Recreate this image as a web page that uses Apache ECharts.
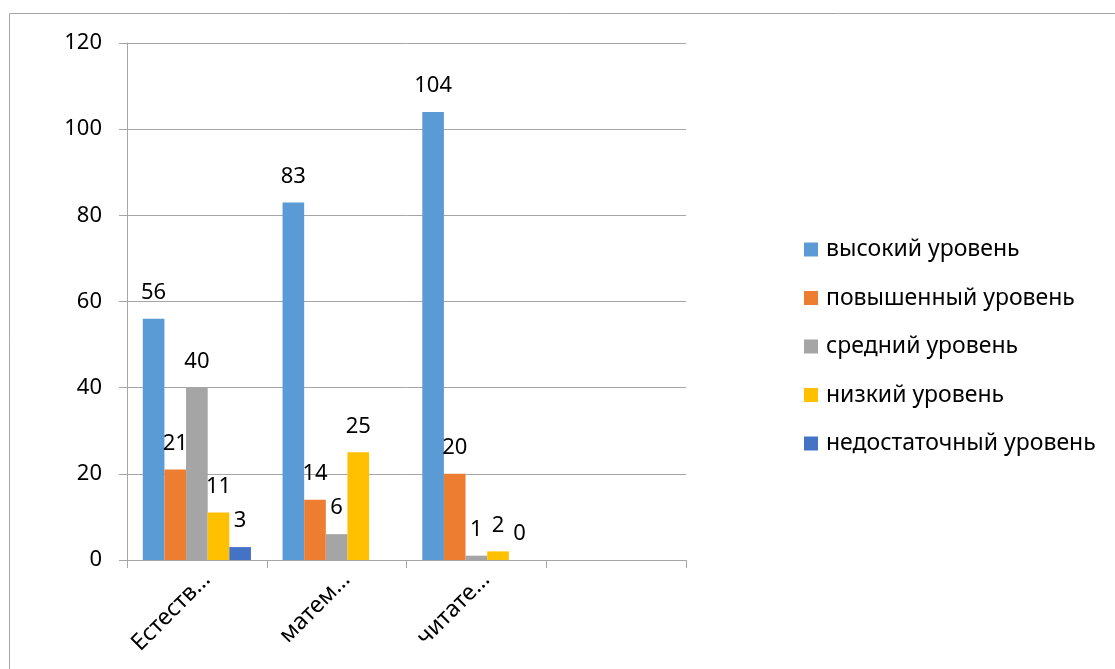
<!DOCTYPE html>
<html>
<head>
<meta charset="utf-8">
<script src="https://cdn.jsdelivr.net/npm/echarts@6/dist/echarts.min.js"></script>
<style>
    html, body { margin: 0; padding: 0; background: #fff; }
    #levels { width: 1115px; height: 669px; }
</style>
</head>
<body>
<div id="levels"></div>
<script>
// categories along the x axis (last one is empty in the original)
var categories = ['Естеств…', 'матем…', 'читате…', ''];
var seriesNames = ['высокий уровень', 'повышенный уровень', 'средний уровень', 'низкий уровень', 'недостаточный уровень'];
var highData = [56, 83, 104, '-'];
var raisedData = [21, 14, 20, '-'];
var middleData = [40, 6, 1, '-'];
var lowData = [11, 25, 2, '-'];
var poorData = [3, '-', 0, '-'];
var colors = ['#5B9BD5', '#ED7D31', '#A5A5A5', '#FFC000', '#4472C4'];

var font = 'Noto Sans';
var chart = echarts.init(document.getElementById('levels'));

function makeSeries(i, data) {
    return {
        name: seriesNames[i],
        type: 'bar',
        data: data,
        barGap: 0,
        barCategoryGap: '22.6%',
        itemStyle: { color: colors[i] },
        label: {
            show: true,
            position: 'top',
            distance: 15,
            color: '#000',
            fontFamily: font,
            fontSize: 22
        }
    };
}

var option = {
    backgroundColor: '#FFFFFF',
    animation: false,
    color: colors,
    graphic: [{
        type: 'rect',
        shape: { x: 9.5, y: 13.5, width: 1200, height: 800 },
        style: { fill: 'none', stroke: '#a6a6a6', lineWidth: 1 },
        silent: true
    }],
    grid: {
        left: 127,
        right: 429,
        top: 43,
        bottom: 109
    },
    legend: {
        orient: 'vertical',
        left: 799,
        top: 233,
        icon: 'rect',
        itemWidth: 14,
        itemHeight: 14,
        itemGap: 25.5,
        data: seriesNames,
        textStyle: {
            color: '#000',
            fontFamily: font,
            fontSize: 23,
            lineHeight: 22,
            padding: [0, 0, 0, 3]
        }
    },
    xAxis: {
        type: 'category',
        data: categories,
        axisLine: { lineStyle: { color: '#a6a6a6' } },
        axisTick: { show: true, length: 8, alignWithLabel: false, lineStyle: { color: '#a6a6a6' } },
        axisLabel: {
            rotate: 45,
            interval: 0,
            margin: 26,
            padding: [0, -14, 0, 0],
            color: '#000',
            fontFamily: font,
            fontSize: 23
        }
    },
    yAxis: {
        type: 'value',
        min: 0,
        max: 120,
        interval: 20,
        axisLine: { show: true, lineStyle: { color: '#a6a6a6' } },
        axisTick: { show: true, length: 8, lineStyle: { color: '#a6a6a6' } },
        splitLine: { lineStyle: { color: '#a6a6a6' } },
        axisLabel: {
            margin: 25,
            color: '#000',
            fontFamily: font,
            fontSize: 22
        }
    },
    series: [
        makeSeries(0, highData),
        makeSeries(1, raisedData),
        makeSeries(2, middleData),
        makeSeries(3, lowData),
        makeSeries(4, poorData)
    ]
};
chart.setOption(option);
</script>
</body>
</html>
